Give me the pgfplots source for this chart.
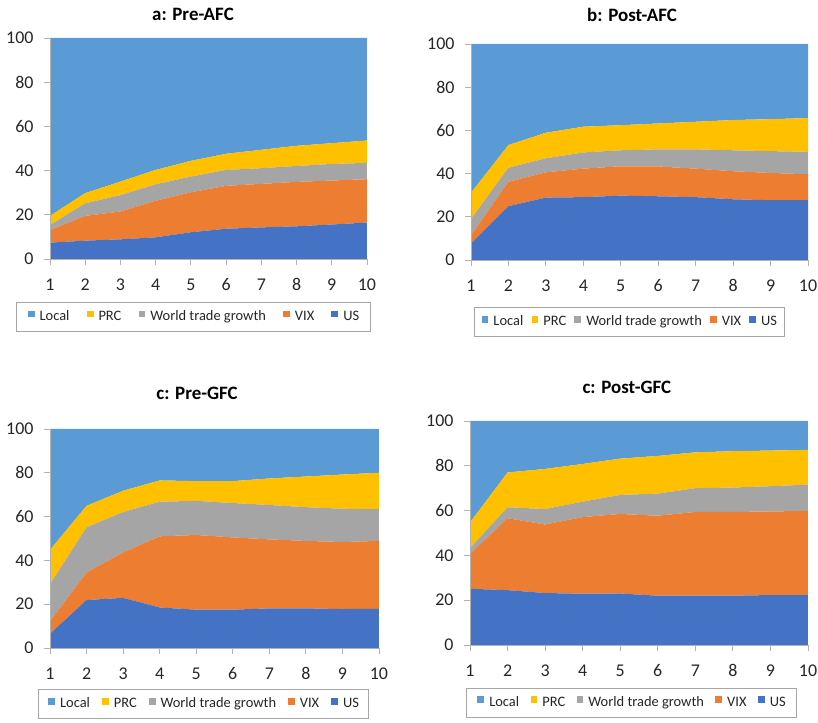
\documentclass[border=0pt]{standalone}
\usepackage{fontspec}
\setmainfont{Carlito}
\usepackage{pgfplots}
\usepackage{pgfplotstable}
\pgfplotsset{compat=1.18}
\definecolor{cLocal}{HTML}{5B9BD5}
\definecolor{cPRC}{HTML}{FFC000}
\definecolor{cWTG}{HTML}{A5A5A5}
\definecolor{cVIX}{HTML}{ED7D31}
\definecolor{cUS}{HTML}{4472C4}

\pgfplotstableread{
x US VIX WTG PRC Local
1 7.4 5.7 2.3 4.1 80.5
2 8.3 11.2 5.7 4.6 70.2
3 8.9 12.6 7.4 6.1 65.0
4 9.8 16.5 7.5 6.5 59.7
5 12.1 18.1 7.1 7.1 55.6
6 13.7 19.4 7.2 7.3 52.4
7 14.3 19.7 7.1 8.3 50.6
8 14.8 20.1 7.2 9.1 48.8
9 15.6 19.9 7.5 9.4 47.6
10 16.5 19.6 7.4 10.1 46.4
}\dataA

\pgfplotstableread{
x US VIX WTG PRC Local
1 7.6 3.8 7.6 12.1 68.9
2 24.9 11.3 6.5 10.5 46.8
3 28.9 11.7 6.5 11.8 41.1
4 29.1 13.2 7.5 11.9 38.3
5 29.8 13.6 7.4 11.6 37.6
6 29.5 13.8 7.9 12.0 36.8
7 29.1 13.2 8.9 12.8 36.0
8 28.1 13.0 9.7 14.0 35.2
9 27.7 12.6 10.1 14.8 34.8
10 27.7 12.0 10.4 15.6 34.3
}\dataB

\pgfplotstableread{
x US VIX WTG PRC Local
1 6.5 5.6 17.0 15.7 55.2
2 21.9 12.5 20.7 9.8 35.1
3 22.9 20.7 18.5 9.7 28.2
4 18.5 32.5 15.8 9.7 23.5
5 17.5 34.1 15.6 9.0 23.8
6 17.5 33.0 15.7 10.0 23.8
7 18.1 31.5 15.7 12.1 22.6
8 18.1 30.8 15.4 14.0 21.7
9 17.8 30.6 15.2 15.6 20.8
10 17.9 31.0 14.5 16.6 20.0
}\dataC

\pgfplotstableread{
x US VIX WTG PRC Local
1 25.1 15.5 2.6 11.5 45.3
2 24.5 32.1 4.9 15.5 23.0
3 23.2 30.6 6.9 17.9 21.4
4 22.9 34.2 6.9 16.8 19.2
5 23.0 35.5 8.5 16.2 16.8
6 22.0 35.7 9.9 16.8 15.6
7 22.0 37.4 10.6 16.0 14.0
8 22.0 37.4 10.9 16.2 13.5
9 22.3 37.3 11.3 15.9 13.2
10 22.3 37.6 11.7 15.5 12.9
}\dataD

\pgfplotsset{panel/.style={
  scale only axis, stack plots=y, area style, enlargelimits=false,
  xmin=1, xmax=10, ymin=0, ymax=100,
  xtick={1,...,10}, ytick={0,20,...,100},
  axis x line*=bottom, axis y line*=left,
  axis line style={draw=gray!60, line width=0.9bp, -},
  axis on top,
  tick align=outside, major tick length=6bp,
  tick style={draw=gray!60, line width=0.9bp},
  /pgf/number format/assume math mode=true,
  tick label style={font=\fontsize{18}{20}\selectfont, text=black!85},
  yticklabel style={xshift=-7bp},
  xticklabel style={yshift=-10bp},
  title style={font=\bfseries\fontsize{19}{22}\selectfont, anchor=center},
  legend columns=5, reverse legend,
  legend cell align=left,
  legend style={anchor=center, draw=gray!70, line width=1.1bp,
    font=\fontsize{14.5}{16}\selectfont, text=black!85,
    inner ysep=8bp,
    nodes={inner xsep=0bp, inner ysep=0bp, text height=10bp, text depth=3bp},
    /tikz/every odd column/.append style={column sep=5bp}},
  legend image code/.code={\fill[##1] (0bp,-0.5bp) rectangle (6.8bp,6.3bp);},
}}

\begin{document}
\begin{tikzpicture}
\useasboundingbox (0,0) rectangle (818bp,723bp);
% panel a
\begin{axis}[panel, at={(50bp,464bp)}, anchor=south west,
  width=317bp, height=221bp,
  title={a: Pre-AFC}, title style={at={(0.451,1)}, yshift=18bp},
  legend style={at={(0.4527,-0.262)}, inner xsep=11.5bp,
    /tikz/every even column/.append style={column sep=17.2bp}}]
\addplot[fill=cUS, draw=none] table[x=x,y=US] {\dataA} \closedcycle;
\addplot[fill=cVIX, draw=none] table[x=x,y=VIX] {\dataA} \closedcycle;
\addplot[fill=cWTG, draw=none] table[x=x,y=WTG] {\dataA} \closedcycle;
\addplot[fill=cPRC, draw=none] table[x=x,y=PRC] {\dataA} \closedcycle;
\addplot[fill=cLocal, draw=none] table[x=x,y=Local] {\dataA} \closedcycle;
\legend{US,VIX,World trade growth,PRC,Local}
\end{axis}
% panel b
\begin{axis}[panel, at={(471bp,463bp)}, anchor=south west,
  width=337bp, height=216bp,
  title={b: Post-AFC}, title style={at={(0.478,1)}, yshift=23.5bp},
  legend style={at={(0.470,-0.289)}, inner xsep=7.5bp,
    /tikz/every even column/.append style={column sep=8.2bp}}]
\addplot[fill=cUS, draw=none] table[x=x,y=US] {\dataB} \closedcycle;
\addplot[fill=cVIX, draw=none] table[x=x,y=VIX] {\dataB} \closedcycle;
\addplot[fill=cWTG, draw=none] table[x=x,y=WTG] {\dataB} \closedcycle;
\addplot[fill=cPRC, draw=none] table[x=x,y=PRC] {\dataB} \closedcycle;
\addplot[fill=cLocal, draw=none] table[x=x,y=Local] {\dataB} \closedcycle;
\legend{US,VIX,World trade growth,PRC,Local}
\end{axis}
% panel c
\begin{axis}[panel, at={(50bp,75bp)}, anchor=south west,
  width=329bp, height=219bp,
  title={c: Pre-GFC}, title style={at={(0.447,1)}, yshift=30bp},
  legend style={at={(0.467,-0.256)}, inner xsep=9.5bp,
    /tikz/every even column/.append style={column sep=12bp}}]
\addplot[fill=cUS, draw=none] table[x=x,y=US] {\dataC} \closedcycle;
\addplot[fill=cVIX, draw=none] table[x=x,y=VIX] {\dataC} \closedcycle;
\addplot[fill=cWTG, draw=none] table[x=x,y=WTG] {\dataC} \closedcycle;
\addplot[fill=cPRC, draw=none] table[x=x,y=PRC] {\dataC} \closedcycle;
\addplot[fill=cLocal, draw=none] table[x=x,y=Local] {\dataC} \closedcycle;
\legend{US,VIX,World trade growth,PRC,Local}
\end{axis}
% panel d
\begin{axis}[panel, at={(470bp,78bp)}, anchor=south west,
  width=338bp, height=224bp,
  title={c: Post-GFC}, title style={at={(0.464,1)}, yshift=28bp},
  legend style={at={(0.478,-0.257)}, inner xsep=11bp,
    /tikz/every even column/.append style={column sep=11.4bp}}]
\addplot[fill=cUS, draw=none] table[x=x,y=US] {\dataD} \closedcycle;
\addplot[fill=cVIX, draw=none] table[x=x,y=VIX] {\dataD} \closedcycle;
\addplot[fill=cWTG, draw=none] table[x=x,y=WTG] {\dataD} \closedcycle;
\addplot[fill=cPRC, draw=none] table[x=x,y=PRC] {\dataD} \closedcycle;
\addplot[fill=cLocal, draw=none] table[x=x,y=Local] {\dataD} \closedcycle;
\legend{US,VIX,World trade growth,PRC,Local}
\end{axis}
\end{tikzpicture}
\end{document}
